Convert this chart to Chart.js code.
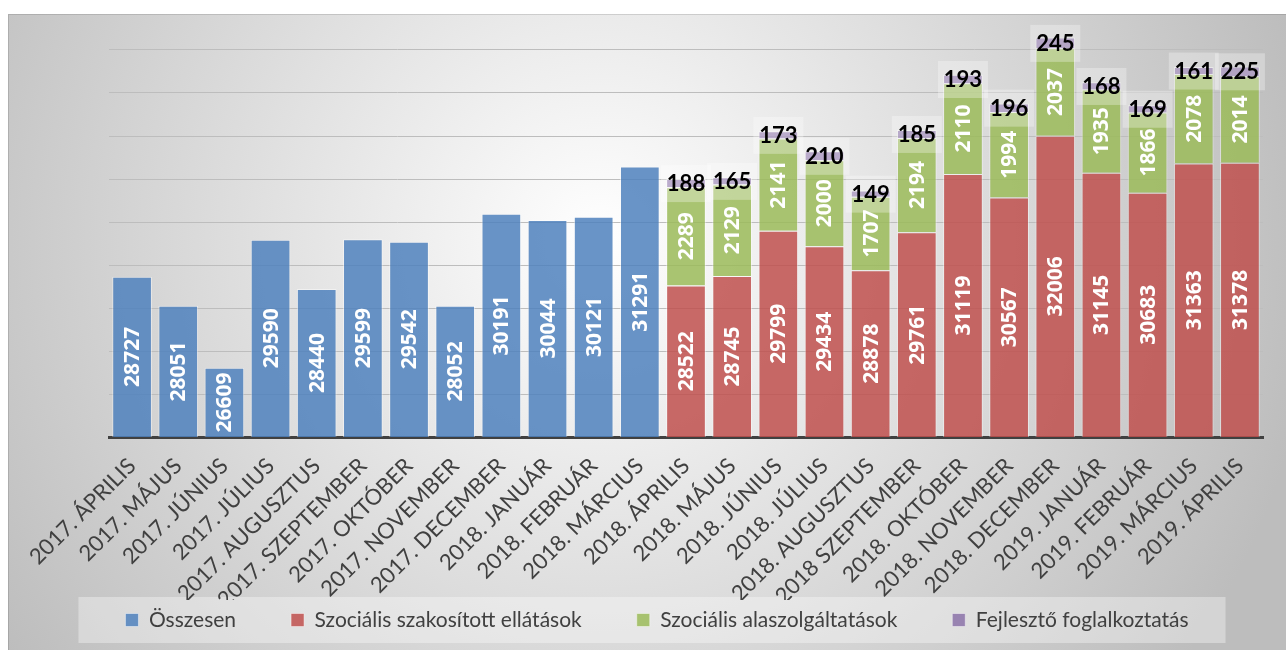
<!DOCTYPE html>
<html>
<head>
<meta charset="utf-8">
<script src="https://cdn.jsdelivr.net/npm/chart.js@4/dist/chart.umd.min.js"></script>
<style>
  html, body { margin: 0; padding: 0; background: #fff; }
  #wrap { width: 1286px; height: 650px; }
</style>
</head>
<body>
<div id="wrap"><canvas id="chart" width="1286" height="650"></canvas></div>
<script>
const months = [
  '2017. ÁPRILIS', '2017. MÁJUS', '2017. JÚNIUS', '2017. JÚLIUS', '2017. AUGUSZTUS',
  '2017. SZEPTEMBER', '2017. OKTÓBER', '2017. NOVEMBER', '2017. DECEMBER',
  '2018. JANUÁR', '2018. FEBRUÁR', '2018. MÁRCIUS', '2018. ÁPRILIS', '2018. MÁJUS',
  '2018. JÚNIUS', '2018. JÚLIUS', '2018. AUGUSZTUS', '2018 SZEPTEMBER', '2018. OKTÓBER',
  '2018. NOVEMBER', '2018. DECEMBER', '2019. JANUÁR', '2019. FEBRUÁR', '2019. MÁRCIUS',
  '2019. ÁPRILIS'
];

const osszesen = [28727, 28051, 26609, 29590, 28440, 29599, 29542, 28052, 30191, 30044, 30121, 31291,
  null, null, null, null, null, null, null, null, null, null, null, null, null];
const szakositott = [null, null, null, null, null, null, null, null, null, null, null, null,
  28522, 28745, 29799, 29434, 28878, 29761, 31119, 30567, 32006, 31145, 30683, 31363, 31378];
const alapszolg = [null, null, null, null, null, null, null, null, null, null, null, null,
  2289, 2129, 2141, 2000, 1707, 2194, 2110, 1994, 2037, 1935, 1866, 2078, 2014];
const fejleszto = [null, null, null, null, null, null, null, null, null, null, null, null,
  188, 165, 173, 210, 149, 185, 193, 196, 245, 168, 169, 161, 225];

const yMin = 25000, yMax = 35000, yStep = 1000;

// gray gradient frame + legend panel
const backdrop = {
  id: 'backdrop',
  beforeDraw(chart) {
    const ctx = chart.ctx;
    ctx.save();
    ctx.fillStyle = '#fff';
    ctx.fillRect(0, 0, chart.width, chart.height);
    const g = ctx.createRadialGradient(600, 240, 0, 600, 240, 720);
    g.addColorStop(0, '#ffffff');
    g.addColorStop(1, '#bdbdbd');
    ctx.fillStyle = g;
    ctx.fillRect(8, 14, chart.width - 8, chart.height - 14);
    ctx.strokeStyle = 'rgba(0,0,0,0.12)';
    ctx.strokeRect(8.5, 14.5, chart.width, chart.height);

    const hb = chart.legend.legendHitBoxes;
    if (hb && hb.length) {
      const last = hb[hb.length - 1];
      const cy = hb[0].top + hb[0].height / 2;
      const x0 = hb[0].left - 47;
      ctx.fillStyle = 'rgba(255,255,255,0.35)';
      ctx.fillRect(x0, cy - 23, last.left + last.width + 37 - x0, 46);
    }
    ctx.restore();
  }
};

// value labels inside the bars
const valueLabels = {
  id: 'valueLabels',
  afterDatasetsDraw(chart) {
    const ctx = chart.ctx;
    const area = chart.chartArea;
    chart.data.datasets.forEach((ds, i) => {
      const meta = chart.getDatasetMeta(i);
      meta.data.forEach((bar, j) => {
        const v = ds.data[j];
        if (v == null) return;
        const bottom = Math.min(bar.base, area.bottom);
        const cy = (bar.y + bottom) / 2;
        ctx.save();
        ctx.textAlign = 'center';
        ctx.textBaseline = 'middle';
        if (i === 3) {
          ctx.fillStyle = 'rgba(255,255,255,0.3)';
          ctx.fillRect(bar.x - 25, cy - 18, 50, 37);
          ctx.fillStyle = '#000';
          ctx.font = 'bold 22px Lato';
          ctx.fillText(String(v), bar.x, cy + 1);
        } else {
          ctx.translate(bar.x, cy);
          ctx.rotate(-Math.PI / 2);
          ctx.fillStyle = '#fff';
          ctx.font = 'bold 21px "Open Sans"';
          ctx.fillText(String(v), 0, 1);
        }
        ctx.restore();
      });
    });
  }
};

// legend: wide item spacing, but a short box placed at y ~620
const legendPlace = {
  id: 'legendPlace',
  afterInit(chart) {
    const lg = chart.legend;
    const fit = lg.fit;
    lg.fit = function () {
      fit.call(this);
      this.height = 50;
    };
  },
  afterUpdate(chart) {
    const lg = chart.legend;
    const hb = lg.legendHitBoxes;
    if (!hb || !hb.length) return;
    const delta = 620 - (hb[0].top + hb[0].height / 2);
    lg.top += delta;
    lg.bottom = chart.height;
    hb.forEach(h => { h.top += delta; });
  }
};

const edge = 'rgba(255,255,255,0.45)';

new Chart(document.getElementById('chart'), {
  type: 'bar',
  data: {
    labels: months,
    datasets: [
      { label: 'Összesen', data: osszesen, backgroundColor: 'rgba(79,129,189,0.85)', borderColor: edge, borderWidth: 1 },
      { label: 'Szociális szakosított ellátások', data: szakositott, backgroundColor: 'rgba(192,80,77,0.85)', borderColor: edge, borderWidth: 1 },
      { label: 'Szociális alaszolgáltatások', data: alapszolg, backgroundColor: 'rgba(155,187,89,0.85)', borderColor: edge, borderWidth: 1 },
      { label: 'Fejlesztő foglalkoztatás', data: fejleszto, backgroundColor: 'rgba(128,100,162,0.75)', borderColor: edge, borderWidth: 1 }
    ]
  },
  options: {
    responsive: false,
    animation: false,
    devicePixelRatio: 1,
    layout: { padding: { left: 51, right: 23, top: 7, bottom: 0 } },
    datasets: { bar: { categoryPercentage: 1, barPercentage: 0.86 } },
    plugins: {
      legend: {
        position: 'bottom',
        labels: {
          boxWidth: 13,
          boxHeight: 13,
          padding: 55,
          color: '#404040',
          font: { family: 'Lato', size: 21 }
        }
      },
      tooltip: { enabled: false }
    },
    scales: {
      x: {
        stacked: true,
        grid: { display: false },
        border: { color: '#404040', width: 3 },
        ticks: {
          color: '#404040',
          font: { family: 'Lato', size: 22 },
          minRotation: 45,
          maxRotation: 45,
          autoSkip: false,
          padding: 8
        },
        afterFit(s) { s.height = 163; }
      },
      y: {
        stacked: true,
        min: yMin,
        max: yMax,
        border: { display: false },
        grid: {
          drawTicks: false,
          color: c => (c.tick.value === yMax ? 'rgba(0,0,0,0)' : '#bdbdbd')
        },
        ticks: { display: false, stepSize: yStep },
        afterFit(s) { s.width = 58; }
      }
    }
  },
  plugins: [backdrop, valueLabels, legendPlace]
});
</script>
</body>
</html>
